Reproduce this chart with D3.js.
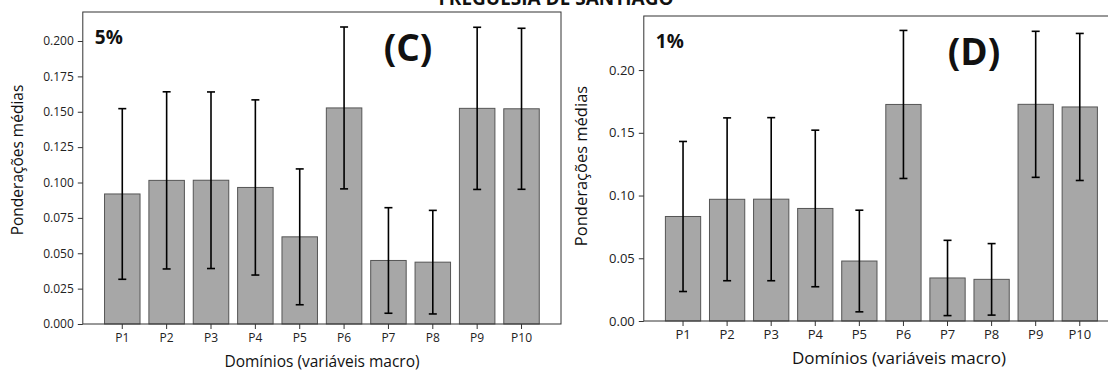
<!DOCTYPE html>
<html>
<head>
<meta charset="utf-8">
<script src="https://cdn.jsdelivr.net/npm/d3@7"></script>
<style>
  html, body { margin: 0; padding: 0; background: #fff; overflow: hidden; }
  svg { display: block; }
</style>
</head>
<body>
<script>
// categories and values
const categories = ["P1", "P2", "P3", "P4", "P5", "P6", "P7", "P8", "P9", "P10"];

// panel C (5%)
const meansC = [0.0919, 0.1015, 0.1016, 0.0965, 0.0616, 0.1527, 0.0449, 0.0437, 0.1524, 0.1521];
const errC   = [0.0603, 0.0626, 0.0624, 0.0619, 0.0480, 0.0572, 0.0373, 0.0366, 0.0573, 0.0569];
const ticksC = [0, 0.025, 0.05, 0.075, 0.1, 0.125, 0.15, 0.175, 0.2];

// panel D (1%)
const meansD = [0.0833, 0.0970, 0.0971, 0.0897, 0.0478, 0.1726, 0.0343, 0.0332, 0.1727, 0.1706];
const errD   = [0.0598, 0.0649, 0.0650, 0.0624, 0.0405, 0.0590, 0.0300, 0.0285, 0.0582, 0.0586];
const ticksD = [0, 0.05, 0.1, 0.15, 0.2];

const W = 1108, H = 372;
const font = "'Open Sans', 'DejaVu Sans', sans-serif";

const svg = d3.select("body").append("svg")
    .attr("width", W)
    .attr("height", H);

// title (cut at the top edge like the source)
svg.append("text")
    .attr("x", 556)
    .attr("y", 5)
    .attr("text-anchor", "middle")
    .attr("font-family", font)
    .attr("font-weight", "bold")
    .attr("font-size", "19px")
    .attr("fill", "#111")
    .text("FREGUESIA DE SANTIAGO");

function drawPanel(opts) {
    let x = d3.scaleBand()
        .domain(categories)
        .range([opts.left, opts.right])
        .paddingInner(0.2)
        .paddingOuter(0.49);

    let y = d3.scaleLinear()
        .domain([0, opts.ymax])
        .range([opts.bottom, opts.top]);

    let g = svg.append("g");

    // bars
    g.selectAll("rect.bar")
        .data(opts.means)
        .enter()
        .append("rect")
        .attr("class", "bar")
        .attr("x", (d, i) => x(categories[i]))
        .attr("y", d => y(d))
        .attr("width", x.bandwidth())
        .attr("height", d => y(0) - y(d))
        .attr("fill", "#a7a7a7")
        .attr("stroke", "#555")
        .attr("stroke-width", 1);

    // error bars
    let cx = i => x(categories[i]) + x.bandwidth() / 2;
    let eb = g.selectAll("g.err")
        .data(opts.means)
        .enter()
        .append("g")
        .attr("class", "err")
        .attr("stroke", "#000")
        .attr("stroke-width", 1.6);
    eb.append("line")
        .attr("x1", (d, i) => cx(i)).attr("x2", (d, i) => cx(i))
        .attr("y1", (d, i) => y(d - opts.err[i]))
        .attr("y2", (d, i) => y(d + opts.err[i]));
    eb.append("line")
        .attr("x1", (d, i) => cx(i) - 4).attr("x2", (d, i) => cx(i) + 4)
        .attr("y1", (d, i) => y(d + opts.err[i]))
        .attr("y2", (d, i) => y(d + opts.err[i]));
    eb.append("line")
        .attr("x1", (d, i) => cx(i) - 4).attr("x2", (d, i) => cx(i) + 4)
        .attr("y1", (d, i) => y(d - opts.err[i]))
        .attr("y2", (d, i) => y(d - opts.err[i]));

    // frame
    g.append("rect")
        .attr("x", opts.left)
        .attr("y", opts.top)
        .attr("width", opts.right - opts.left)
        .attr("height", opts.bottom - opts.top)
        .attr("fill", "none")
        .attr("stroke", "#333")
        .attr("stroke-width", 1);

    // axes
    let yAxis = g.append("g")
        .attr("transform", "translate(" + opts.left + ",0)")
        .call(d3.axisLeft(y).tickValues(opts.ticks).tickFormat(d3.format(opts.fmt)).tickSize(5).tickPadding(4));
    let xAxis = g.append("g")
        .attr("transform", "translate(0," + opts.bottom + ")")
        .call(d3.axisBottom(x).tickSize(5).tickPadding(4));
    [xAxis, yAxis].forEach(a => {
        a.select(".domain").remove();
        a.selectAll("line").attr("stroke", "#333");
        a.selectAll("text")
            .attr("font-family", font)
            .attr("font-size", opts.tickSize)
            .attr("fill", "#222");
    });

    // axis labels
    g.append("text")
        .attr("transform", "translate(" + opts.ylabX + "," + opts.ylabY + ") rotate(-90)")
        .attr("text-anchor", "middle")
        .attr("dominant-baseline", "middle")
        .attr("font-family", font)
        .attr("font-size", opts.ylabSize)
        .attr("fill", "#111")
        .text("Ponderações médias");

    g.append("text")
        .attr("x", opts.xlabX)
        .attr("y", opts.xlabY)
        .attr("text-anchor", "middle")
        .attr("font-family", font)
        .attr("font-size", opts.xlabSize)
        .attr("fill", "#111")
        .text("Domínios (variáveis macro)");

    // percentage and panel letter
    g.append("text")
        .attr("x", opts.left + 12)
        .attr("y", opts.pctY)
        .attr("font-family", font)
        .attr("font-weight", "bold")
        .attr("font-size", "19px")
        .attr("fill", "#111")
        .text(opts.pct);

    g.append("text")
        .attr("x", opts.letterX)
        .attr("y", opts.letterY)
        .attr("text-anchor", "middle")
        .attr("font-family", font)
        .attr("font-weight", "bold")
        .attr("font-size", "37px")
        .attr("fill", "#111")
        .text(opts.letter);
}

drawPanel({
    means: meansC, err: errC, ticks: ticksC, fmt: ".3f",
    left: 82.8, right: 561, top: 12, bottom: 324, ymax: 0.2205,
    tickSize: "12px", ylabSize: "15.5px", xlabSize: "15.5px",
    ylabX: 19, ylabY: 160, xlabX: 322, xlabY: 367,
    pct: "5%", pctY: 44, letter: "(C)", letterX: 408, letterY: 61
});

drawPanel({
    means: meansD, err: errD, ticks: ticksD, fmt: ".2f",
    left: 643.8, right: 1119, top: 16, bottom: 321, ymax: 0.2431,
    tickSize: "13px", ylabSize: "16.5px", xlabSize: "17px",
    ylabX: 583, ylabY: 166, xlabX: 899, xlabY: 364,
    pct: "1%", pctY: 48, letter: "(D)", letterX: 974, letterY: 65
});
</script>
</body>
</html>
